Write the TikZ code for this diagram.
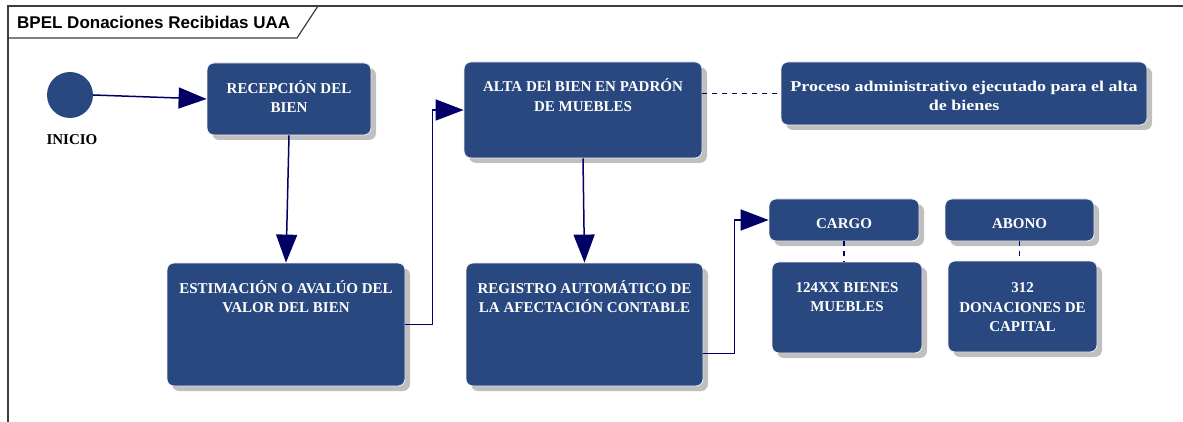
\documentclass[tikz,border=0pt]{standalone}
\usepackage{fontspec}
\setmainfont{Liberation Serif}
\newfontfamily\titulofont{Liberation Sans}
\newfontfamily\anchafont[FakeStretch=1.2]{Liberation Serif}
\usetikzlibrary{arrows.meta,shadows}
\definecolor{azulcaja}{RGB}{41,72,127}
\definecolor{azulflecha}{RGB}{0,0,102}
\definecolor{marco}{RGB}{60,60,60}
\tikzset{
  caja/.style={rectangle, rounded corners=7pt, fill=azulcaja, draw=white!88!gray, line width=0.8pt,
    drop shadow={shadow xshift=5pt, shadow yshift=-5pt, fill=black!25, opacity=1}, inner sep=0pt},
  textocaja/.style={anchor=base, align=center, text=white, inner sep=0pt,
    font=\bfseries\fontsize{15}{19.5}\selectfont},
  flecha/.style={draw=azulflecha, line width=1.5pt, -{Triangle[length=28pt,width=21pt]}},
  enlace/.style={draw=azulflecha, line width=1.8pt, dash pattern=on 5pt off 5pt},
}
\begin{document}
\begin{tikzpicture}[x=1pt,y=-1pt]
  \useasboundingbox (0,0) rectangle (1183,422);
  \draw[marco, line width=1.2pt] (8,422) -- (8,6) -- (1183,6);
  \draw[marco, line width=1.2pt] (8,38) -- (297,38) -- (318,6);
  \node[anchor=base west, inner sep=0pt, font=\titulofont\bfseries\fontsize{17}{20}\selectfont] (titulo) at (17,29) {BPEL Donaciones Recibidas UAA};

  \node[circle, fill=azulcaja, minimum size=46pt, inner sep=0pt] (inicio) at (70,95) {};
  \node[anchor=base, inner sep=0pt, font=\bfseries\fontsize{15}{17}\selectfont] (inicio-t) at (72,145) {INICIO};

  \node[caja, minimum width=164pt, minimum height=72pt] (recepcion) at (289,99) {};
  \node[caja, minimum width=238pt, minimum height=123pt] (estimacion) at (286,324.5) {};
  \node[caja, minimum width=238pt, minimum height=96pt] (alta) at (583,110) {};
  \node[caja, minimum width=366pt, minimum height=63pt] (proceso) at (964,93.5) {};
  \node[caja, minimum width=237pt, minimum height=123pt] (registro) at (584.5,324.5) {};
  \node[caja, minimum width=150pt, minimum height=42pt] (cargo) at (844,220) {};
  \node[caja, minimum width=150pt, minimum height=91pt] (bienes) at (847,307.5) {};
  \node[caja, minimum width=149pt, minimum height=42pt] (abono) at (1019.5,220) {};
  \node[caja, minimum width=149pt, minimum height=91pt] (capital) at (1022.5,306.5) {};

  \node[textocaja] (recepcion-t) at ([yshift=-50pt]recepcion.north) {RECEPCIÓN DEL\\BIEN};
  \node[textocaja] (estimacion-t) at ([yshift=-50pt]estimacion.north) {ESTIMACIÓN O AVALÚO DEL\\VALOR DEL BIEN};
  \node[textocaja] (alta-t) at ([yshift=-49.5pt]alta.north) {ALTA DEl BIEN EN PADRÓN\\DE MUEBLES};
  \node[textocaja, font=\anchafont\bfseries\fontsize{15}{19.5}\selectfont] (proceso-t) at ([yshift=-49pt]proceso.north) {Proceso administrativo ejecutado para el alta\\de bienes};
  \node[textocaja] (registro-t) at ([yshift=-50pt]registro.north) {REGISTRO AUTOMÁTICO DE\\LA AFECTACIÓN CONTABLE};
  \node[textocaja] (cargo-t) at ([yshift=-30pt]cargo.north) {CARGO};
  \node[textocaja] (bienes-t) at ([yshift=-50pt]bienes.north) {124XX BIENES\\MUEBLES};
  \node[textocaja] (abono-t) at ([yshift=-30pt]abono.north) {ABONO};
  \node[textocaja] (capital-t) at ([yshift=-71pt]capital.north) {312\\DONACIONES DE\\CAPITAL};

  \draw[flecha] (inicio.east) -- (recepcion.west);
  \draw[flecha] (recepcion.south) -- (estimacion.north);
  \draw[flecha] (estimacion.east) -- ++(27,0) |- (alta.west);
  \draw[flecha] (alta.south) -- (registro.north);
  \draw[flecha] ([yshift=-29pt]registro.east) -- ++(31,0) |- (cargo.west);
  \draw[enlace] (alta.east |- proceso.west) -- (proceso.west);
  \draw[enlace] (cargo.south) -- (cargo.south |- bienes.north);
  \draw[enlace] (abono.south) -- (abono.south |- capital.north);
\end{tikzpicture}
\end{document}
